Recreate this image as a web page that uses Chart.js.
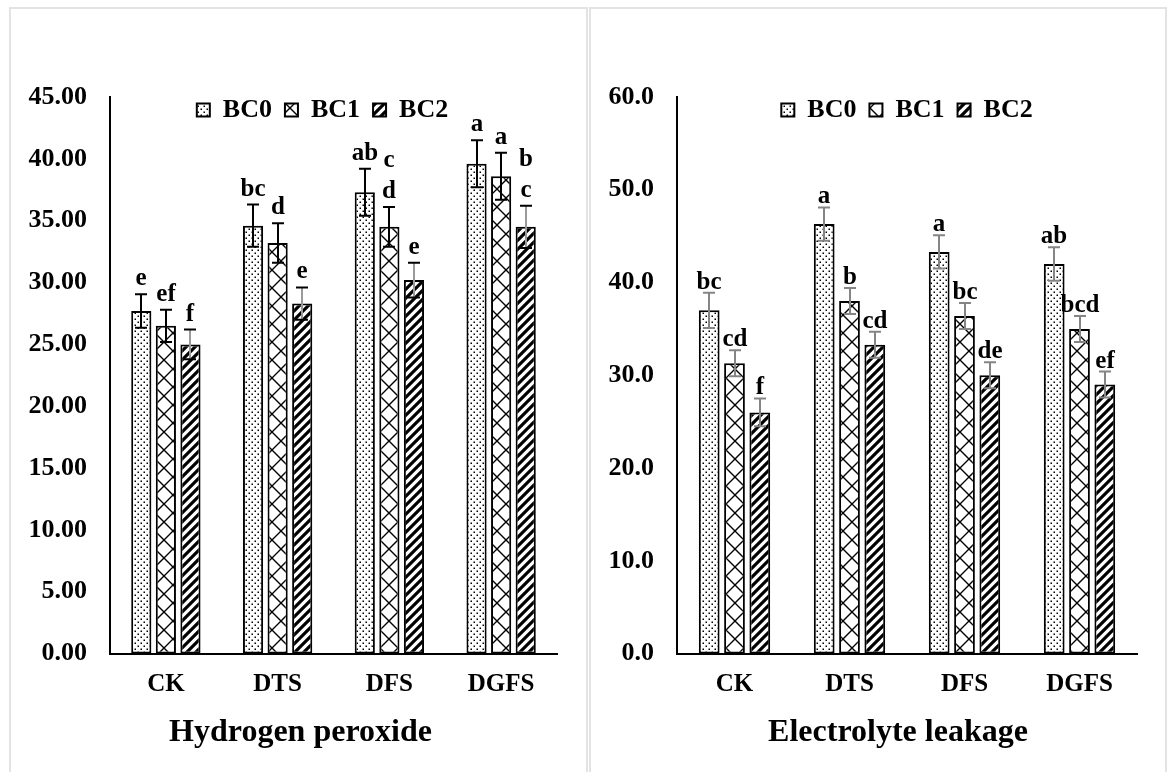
<!DOCTYPE html>
<html lang="en">
<head>
<meta charset="UTF-8">
<title>Hydrogen peroxide / Electrolyte leakage</title>
<script src="https://cdn.jsdelivr.net/npm/chart.js"></script>
<style>
  html, body { margin: 0; padding: 0; background: #fff; overflow: hidden; }
  .panel { position: absolute; border: 2px solid #e3e3e3; }
  #p1 { left: 9px; top: 7px; width: 575px; height: 800px; }
  #p2 { left: 589px; top: 7px; width: 574px; height: 800px; }
  canvas { display: block; }
</style>
</head>
<body>
<div class="panel" id="p1"><canvas id="h2o2" width="575" height="763"></canvas></div>
<div class="panel" id="p2"><canvas id="el" width="574" height="763"></canvas></div>
<script>
// categories and series
const categories = ['CK', 'DTS', 'DFS', 'DGFS'];
const seriesNames = ['BC0', 'BC1', 'BC2'];

// Hydrogen peroxide
const h2o2BC0 = [27.7, 34.6, 37.3, 39.6];
const h2o2BC1 = [26.5, 33.2, 34.5, 38.6];
const h2o2BC2 = [25.0, 28.3, 30.2, 34.5];
const h2o2ErrBC0 = [1.35, 1.7, 1.9, 1.9];
const h2o2ErrBC1 = [1.3, 1.6, 1.6, 1.9];
const h2o2ErrBC2 = [1.2, 1.3, 1.4, 1.7];
const h2o2LetBC0 = ['e', 'bc', 'ab', 'a'];
const h2o2LetBC1 = ['ef', 'd', ['c', 'd'], 'a'];
const h2o2LetBC2 = ['f', 'e', 'e', ['b', 'c']];

// Electrolyte leakage
const elBC0 = [37.0, 46.3, 43.3, 42.0];
const elBC1 = [31.3, 38.0, 36.4, 35.0];
const elBC2 = [26.0, 33.3, 30.0, 29.0];
const elErrBC0 = [1.9, 1.8, 1.8, 1.8];
const elErrBC1 = [1.4, 1.4, 1.4, 1.4];
const elErrBC2 = [1.5, 1.4, 1.4, 1.4];
const elLetBC0 = ['bc', 'a', 'a', 'ab'];
const elLetBC1 = ['cd', 'b', 'bc', 'bcd'];
const elLetBC2 = ['f', 'cd', 'de', 'ef'];

const FONT = '"Liberation Serif", "Times New Roman", serif';
Chart.defaults.font.family = FONT;
Chart.defaults.font.weight = 'bold';
Chart.defaults.color = '#000';

// fill patterns like the excel ones
function tile(w, h, draw) {
  const c = document.createElement('canvas');
  c.width = w; c.height = h;
  const g = c.getContext('2d');
  g.fillStyle = '#fff';
  g.fillRect(0, 0, w, h);
  g.fillStyle = '#000';
  g.strokeStyle = '#000';
  draw(g, w, h);
  return g.createPattern(c, 'repeat');
}
const dots = tile(6, 6, (g) => {
  g.fillRect(0.5, 0.5, 1.5, 1.5);
  g.fillRect(3.5, 3.5, 1.5, 1.5);
});
const lattice = tile(18, 18, (g, w, h) => {
  g.lineWidth = 1.4;
  g.beginPath();
  g.moveTo(0, 0); g.lineTo(w, h);
  g.moveTo(w, 0); g.lineTo(0, h);
  g.stroke();
});
const stripes = tile(9, 9, (g, w, h) => {
  g.lineWidth = 3.2;
  g.beginPath();
  g.moveTo(-2, h + 2); g.lineTo(w + 2, -2);
  g.moveTo(-2, 2); g.lineTo(2, -2);
  g.moveTo(w - 2, h + 2); g.lineTo(w + 2, h - 2);
  g.stroke();
});
const fills = [dots, lattice, stripes];

// error bars + significance letters
const errorBars = {
  id: 'errorBars',
  afterDatasetsDraw(chart, args, opts) {
    const ctx = chart.ctx;
    const ys = chart.scales.y;
    chart.data.datasets.forEach((ds, i) => {
      const meta = chart.getDatasetMeta(i);
      meta.data.forEach((bar, j) => {
        const v = ds.data[j], e = ds.errors[j];
        const top = ys.getPixelForValue(v + e);
        const bot = ys.getPixelForValue(v - e);
        const x = Math.round(bar.x);
        ctx.save();
        ctx.lineWidth = 2;
        ctx.strokeStyle = ds.errStem;
        ctx.beginPath();
        ctx.moveTo(x, top); ctx.lineTo(x, bot);
        ctx.stroke();
        ctx.strokeStyle = ds.errCap;
        ctx.beginPath();
        ctx.moveTo(x - 6, top); ctx.lineTo(x + 6, top);
        ctx.moveTo(x - 6, bot); ctx.lineTo(x + 6, bot);
        ctx.stroke();
        const lines = [].concat(ds.letters[j]);
        ctx.fillStyle = '#000';
        ctx.font = 'bold 25px ' + FONT;
        ctx.textAlign = 'center';
        ctx.textBaseline = 'alphabetic';
        lines.forEach((t, k) => {
          ctx.fillText(t, x, top - opts.gap - (lines.length - 1 - k) * 31);
        });
        ctx.restore();
      });
    });
  }
};

// legend drawn inside the plot top, title shifted like in the original sheet
const blockShift = {
  id: 'blockShift',
  beforeDraw(chart, args, opts) {
    const a = chart.chartArea;
    const l = chart.legend;
    const h = l.bottom - l.top;
    l.top = a.top - 13;
    l.bottom = l.top + h;
    l.left = a.left + opts.legendDx;
    l.right = a.right + opts.legendDx;
    const t = chart.titleBlock;
    const half = (t.right - t.left) / 2;
    const cx = (a.left + a.right) / 2 + opts.titleDx;
    t.left = cx - half;
    t.right = cx + half;
  }
};

function makeChart(id, cfg) {
  const datasets = seriesNames.map((name, i) => ({
    label: name,
    data: cfg.values[i],
    errors: cfg.errors[i],
    letters: cfg.letters[i],
    errStem: cfg.stem[i],
    errCap: cfg.cap[i],
    backgroundColor: fills[i],
    borderColor: '#000',
    borderWidth: 2,
    borderSkipped: false,
    categoryPercentage: 0.66,
    barPercentage: 0.82
  }));
  return new Chart(document.getElementById(id), {
    type: 'bar',
    data: { labels: categories, datasets: datasets },
    options: {
      responsive: false,
      animation: false,
      layout: { padding: { left: 0, right: cfg.padR, top: 39, bottom: 0 } },
      scales: {
        x: {
          grid: { display: false, drawTicks: false },
          border: { color: '#000', width: 2 },
          ticks: { font: { size: 25 }, color: '#000', padding: 16 },
          afterFit(s) { s.height = 60; }
        },
        y: {
          min: 0,
          max: cfg.max,
          grid: { display: false, drawTicks: false },
          border: { color: '#000', width: 2 },
          ticks: {
            stepSize: cfg.step,
            font: { size: 26 },
            color: '#000',
            padding: 23,
            callback: (v) => v.toFixed(cfg.dec)
          },
          afterFit(s) { s.width = cfg.axisW; }
        }
      },
      plugins: {
        legend: {
          position: 'top',
          fullSize: false,
          align: 'center',
          labels: { boxWidth: 13, boxHeight: 13, padding: 13, font: { size: 26 }, color: '#000' }
        },
        title: {
          display: true,
          position: 'bottom',
          text: cfg.title,
          font: { size: 32 },
          color: '#000',
          padding: { top: 0, bottom: 20 }
        },
        tooltip: { enabled: false },
        errorBars: { gap: cfg.gap },
        blockShift: { legendDx: cfg.legendDx, titleDx: cfg.titleDx }
      }
    },
    plugins: [errorBars, blockShift]
  });
}

makeChart('h2o2', {
  title: 'Hydrogen peroxide',
  values: [h2o2BC0, h2o2BC1, h2o2BC2],
  errors: [h2o2ErrBC0, h2o2ErrBC1, h2o2ErrBC2],
  letters: [h2o2LetBC0, h2o2LetBC1, h2o2LetBC2],
  stem: ['#000', '#000', '#9a9a9a'],
  cap: ['#000', '#000', '#000'],
  max: 45, step: 5, dec: 2,
  padR: 29, axisW: 99,
  gap: 9, legendDx: -11, titleDx: -33
});

makeChart('el', {
  title: 'Electrolyte leakage',
  values: [elBC0, elBC1, elBC2],
  errors: [elErrBC0, elErrBC1, elErrBC2],
  letters: [elLetBC0, elLetBC1, elLetBC2],
  stem: ['#858585', '#858585', '#858585'],
  cap: ['#858585', '#858585', '#858585'],
  max: 60, step: 10, dec: 1,
  padR: 28, axisW: 86,
  gap: 4, legendDx: 0, titleDx: -9
});
</script>
</body>
</html>
